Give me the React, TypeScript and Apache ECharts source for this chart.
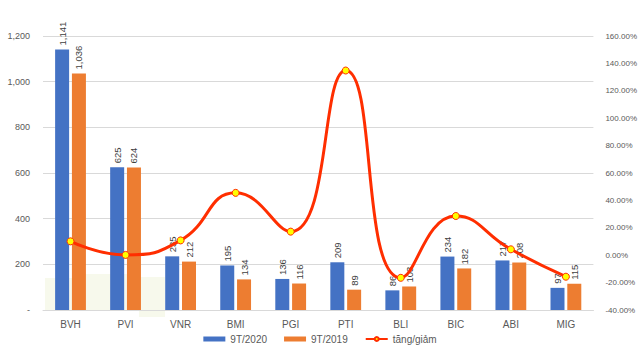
import React, { useEffect, useRef } from "react";
import * as echarts from "echarts";

const categories = ["BVH", "PVI", "VNR", "BMI", "PGI", "PTI", "BLI", "BIC", "ABI", "MIG"];
const values2020 = [1141, 625, 235, 195, 136, 209, 86, 234, 217, 97];
const values2019 = [1036, 624, 212, 134, 116, 89, 103, 182, 208, 115];
const growthPct = [10.1, 0.2, 10.8, 45.5, 17.2, 134.8, -16.5, 28.6, 4.3, -15.7];
const seriesNames = ["9T/2020", "9T/2019", "tăng/giảm"];

const FONT = "Liberation Sans";

const fmtNum = (v: number) => v.toLocaleString("en-US");

export default function App() {
  const ref = useRef<HTMLDivElement>(null);
  useEffect(() => {
    if (!ref.current) return;
    const chart = echarts.init(ref.current, undefined, { renderer: "svg" });
    const barLabel = {
      show: true,
      position: "top" as const,
      rotate: 90,
      align: "left" as const,
      verticalAlign: "middle" as const,
      distance: 4,
      fontSize: 9.5,
      fontFamily: FONT,
      color: "#404040",
      formatter: (p: any) => fmtNum(p.value),
    };
    chart.setOption({
      animation: false,
      backgroundColor: "#ffffff",
      textStyle: { fontFamily: FONT },
      grid: { left: 43, right: 43, top: 36, bottom: 41, containLabel: false },
      graphic: [
        { type: "rect", z: -10, silent: true, shape: { x: 45, y: 278, width: 39, height: 32 }, style: { fill: "#F7F9EC" } },
        { type: "rect", z: -10, silent: true, shape: { x: 84, y: 274, width: 55, height: 36 }, style: { fill: "#F7F9EC" } },
        { type: "rect", z: -10, silent: true, shape: { x: 139, y: 277, width: 26, height: 40 }, style: { fill: "#F7F9EC" } },
      ],
      legend: {
        top: 332,
        left: "center",
        padding: [2, 5, 2, 5],
        itemGap: 17,
        itemWidth: 22,
        itemHeight: 5,
        textStyle: { fontSize: 10, color: "#595959", fontFamily: FONT },
        data: [
          { name: seriesNames[0], icon: "rect" },
          { name: seriesNames[1], icon: "rect" },
          { name: seriesNames[2] },
        ],
      },
      xAxis: {
        type: "category",
        data: categories,
        axisLine: { lineStyle: { color: "#D9D9D9" } },
        axisTick: { show: false },
        axisLabel: { fontSize: 10, color: "#595959", margin: 9, fontFamily: FONT },
      },
      yAxis: [
        {
          type: "value",
          min: 0,
          max: 1200,
          interval: 200,
          axisLine: { show: false },
          axisTick: { show: false },
          splitLine: { lineStyle: { color: "#D9D9D9" } },
          axisLabel: {
            fontSize: 9,
            color: "#595959",
            margin: 13,
            fontFamily: FONT,
            formatter: (v: number) => (v === 0 ? "-" : fmtNum(v)),
          },
        },
        {
          type: "value",
          min: -40,
          max: 160,
          interval: 20,
          axisLine: { show: false },
          axisTick: { show: false },
          splitLine: { show: false },
          axisLabel: {
            fontSize: 8,
            color: "#595959",
            margin: 12,
            fontFamily: FONT,
            formatter: (v: number) => v.toFixed(2) + "%",
          },
        },
      ],
      series: [
        {
          name: seriesNames[0],
          type: "bar",
          data: values2020,
          barWidth: 14,
          barGap: "20%",
          itemStyle: { color: "#4472C4" },
          label: barLabel,
        },
        {
          name: seriesNames[1],
          type: "bar",
          data: values2019,
          barWidth: 14,
          barGap: "20%",
          itemStyle: { color: "#ED7D31" },
          label: barLabel,
        },
        {
          name: seriesNames[2],
          type: "line",
          yAxisIndex: 1,
          data: growthPct,
          smooth: 0.5,
          symbol: "circle",
          symbolSize: 7,
          lineStyle: { color: "#FF2E00", width: 3 },
          itemStyle: { color: "#FFFF00", borderColor: "#FF2E00", borderWidth: 1 },
          z: 5,
        },
      ],
    });
    return () => chart.dispose();
  }, []);
  return (
    <div
      ref={ref}
      style={{ position: "fixed", left: 0, top: 0, width: 640, height: 351 }}
    />
  );
}
